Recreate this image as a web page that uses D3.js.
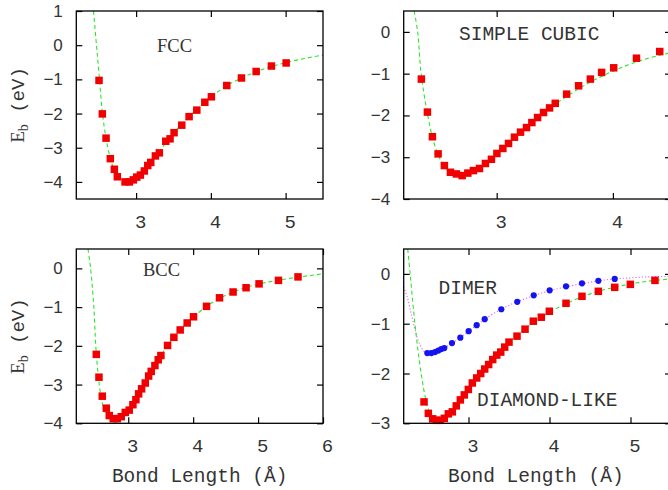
<!DOCTYPE html>
<html><head><meta charset="utf-8">
<script src="https://cdn.jsdelivr.net/npm/d3@7"></script>
<style>body{margin:0;background:#fff}svg{display:block}</style>
</head><body>
<svg id="c" width="668" height="490"></svg>
<script>
// ---------- DATA ----------
const fccX = [2.504,2.548,2.598,2.655,2.709,2.749,2.852,2.91,2.963,3.009,3.057,3.11,3.156,3.196,3.258,3.311,3.397,3.454,3.508,3.611,3.709,3.812,3.919,4.007,4.213,4.409,4.606,4.81,5.007];
const fccE = [-1.03,-2.01,-2.72,-3.32,-3.63,-3.85,-4.0,-4.0,-3.94,-3.86,-3.80,-3.68,-3.52,-3.43,-3.24,-3.15,-2.81,-2.74,-2.56,-2.34,-2.09,-1.90,-1.67,-1.51,-1.18,-0.96,-0.77,-0.61,-0.52];
const fccFitX = [2.43,2.47,2.51,2.55,2.6,2.66,2.72,2.78,2.86,2.95,3.05,3.2,3.4,3.6,3.8,4.0,4.2,4.4,4.6,4.8,5.0,5.25,5.5];
const fccFitE = [1.0,0,-1.0,-2.0,-2.75,-3.35,-3.72,-3.92,-4.0,-3.96,-3.8,-3.45,-2.85,-2.32,-1.9,-1.52,-1.2,-0.97,-0.78,-0.63,-0.51,-0.39,-0.29];

const scX = [2.352,2.404,2.447,2.496,2.55,2.602,2.653,2.703,2.752,2.8,2.852,2.903,2.955,3.002,3.053,3.102,3.153,3.205,3.257,3.303,3.352,3.403,3.455,3.504,3.602,3.705,3.806,3.903,4.007,4.203,4.403];
const scE = [-1.13,-1.92,-2.51,-2.92,-3.20,-3.36,-3.40,-3.44,-3.38,-3.32,-3.27,-3.15,-3.05,-2.91,-2.79,-2.67,-2.52,-2.40,-2.29,-2.17,-2.05,-1.93,-1.82,-1.71,-1.49,-1.29,-1.13,-0.97,-0.86,-0.63,-0.47];
const scFitX = [2.29,2.32,2.35,2.4,2.45,2.5,2.55,2.6,2.66,2.72,2.8,2.9,3.0,3.1,3.2,3.3,3.4,3.5,3.6,3.7,3.8,3.9,4.0,4.2,4.4,4.5];
const scFitE = [0.5,0,-1.0,-1.9,-2.55,-2.97,-3.22,-3.36,-3.43,-3.43,-3.35,-3.15,-2.92,-2.67,-2.42,-2.18,-1.95,-1.74,-1.55,-1.37,-1.21,-1.07,-0.94,-0.72,-0.56,-0.5];

const bccX = [2.508,2.549,2.6,2.662,2.708,2.769,2.831,2.892,2.954,3.015,3.072,3.118,3.16,3.206,3.262,3.314,3.354,3.411,3.462,3.503,3.606,3.703,3.8,3.908,4.006,4.206,4.406,4.615,4.815,5.015,5.314,5.615];
const bccE = [-2.22,-2.81,-3.30,-3.61,-3.80,-3.88,-3.88,-3.83,-3.72,-3.66,-3.52,-3.39,-3.24,-3.11,-2.96,-2.78,-2.66,-2.51,-2.36,-2.25,-1.99,-1.78,-1.59,-1.41,-1.25,-0.98,-0.76,-0.61,-0.50,-0.40,-0.31,-0.22];
const bccFitX = [2.38,2.42,2.47,2.5,2.54,2.58,2.63,2.68,2.75,2.82,2.9,3.0,3.1,3.2,3.3,3.4,3.5,3.6,3.7,3.8,3.9,4.0,4.2,4.4,4.6,4.8,5.0,5.3,5.6,6.0];
const bccFitE = [0.5,0,-1.0,-2.0,-2.8,-3.3,-3.65,-3.82,-3.9,-3.88,-3.8,-3.64,-3.42,-3.15,-2.85,-2.55,-2.26,-2.0,-1.78,-1.58,-1.41,-1.26,-0.99,-0.78,-0.62,-0.5,-0.41,-0.31,-0.23,-0.14];

const dimerX = [2.491,2.541,2.586,2.627,2.664,2.701,2.796,2.899,3.002,3.101,3.2,3.405,3.602,3.805,4.002,4.204,4.401,4.603,4.805];
const dimerE = [-1.59,-1.59,-1.57,-1.54,-1.51,-1.49,-1.39,-1.28,-1.15,-1.03,-0.91,-0.71,-0.56,-0.43,-0.33,-0.25,-0.19,-0.14,-0.10];
const dimerFitX = [2.2,2.25,2.3,2.35,2.4,2.45,2.5,2.55,2.6,2.7,2.8,2.9,3.0,3.1,3.2,3.4,3.6,3.8,4.0,4.2,4.4,4.6,4.8,5.0,5.2,5.5];
const dimerFitE = [-0.26,-0.5,-0.85,-1.18,-1.42,-1.55,-1.59,-1.59,-1.57,-1.49,-1.39,-1.28,-1.15,-1.03,-0.91,-0.71,-0.56,-0.44,-0.34,-0.26,-0.2,-0.14,-0.1,-0.08,-0.06,-0.05];

const diaX = [2.451,2.504,2.558,2.603,2.652,2.701,2.751,2.8,2.849,2.899,2.948,2.998,3.047,3.101,3.151,3.2,3.249,3.299,3.348,3.398,3.447,3.5,3.599,3.698,3.8,3.899,3.998,4.204,4.401,4.603,4.805,4.998,5.302];
const diaE = [-2.57,-2.80,-2.91,-2.94,-2.94,-2.90,-2.81,-2.77,-2.65,-2.53,-2.43,-2.32,-2.19,-2.09,-2.0,-1.91,-1.82,-1.72,-1.63,-1.57,-1.47,-1.37,-1.25,-1.11,-0.95,-0.87,-0.75,-0.59,-0.45,-0.35,-0.27,-0.21,-0.13];
const diaFitX = [2.25,2.28,2.32,2.37,2.42,2.47,2.52,2.58,2.65,2.72,2.8,2.9,3.0,3.1,3.2,3.3,3.4,3.5,3.6,3.7,3.8,3.9,4.0,4.2,4.4,4.6,4.8,5.0,5.2,5.5];
const diaFitE = [0.5,0,-0.7,-1.45,-2.05,-2.5,-2.78,-2.92,-2.96,-2.9,-2.78,-2.56,-2.33,-2.1,-1.89,-1.7,-1.53,-1.37,-1.23,-1.1,-0.98,-0.87,-0.77,-0.6,-0.46,-0.35,-0.27,-0.2,-0.15,-0.1];

const xTicks1 = [3,4,5], yTicks1 = [1,0,-1,-2,-3,-4];
const xTicks2 = [3,4],   yTicks2 = [0,-1,-2,-3,-4];
const xTicks3 = [3,4,5,6], yTicks3 = [0,-1,-2,-3,-4];
const xTicks4 = [3,4,5], yTicks4 = [0,-1,-2,-3];

const xLabel = "Bond Length (Å)";

// ---------- DRAW ----------
const svg = d3.select("#c");
const zip = (a,b) => a.map((v,i)=>[v,b[i]]);
const GREEN = "#2ae62a", MAG = "#f060f0", RED = "#f00000", BLUE = "#1414f0";
const TXT = "#333";
const MONO = "'Liberation Mono', 'Courier New', monospace";
const SANS = "'Liberation Sans', Arial, sans-serif";
const SERIF = "'Liberation Serif', 'Times New Roman', serif";

function panel(id, box, xd, yd, xt, yt, opts) {
  const x = d3.scaleLinear().domain(xd).range([box.l, box.r]);
  const y = d3.scaleLinear().domain(yd).range([box.b, box.t]);
  const g = svg.append("g");
  g.append("clipPath").attr("id","clip"+id).append("rect")
    .attr("x",box.l).attr("y",box.t).attr("width",box.r-box.l).attr("height",box.b-box.t);

  const tl = 6;
  const ax = [
    [d3.axisBottom(x).tickValues(xt).tickSize(tl), `translate(0,${box.b}) scale(1,-1)`],
    [d3.axisTop(x).tickValues(xt).tickSize(tl), `translate(0,${box.t}) scale(1,-1)`],
    [d3.axisLeft(y).tickValues(yt).tickSize(tl), `translate(${box.l},0) scale(-1,1)`],
    [d3.axisRight(y).tickValues(yt).tickSize(tl), `translate(${box.r},0) scale(-1,1)`]
  ];
  ax.forEach(([a,t]) => {
    const ag = g.append("g").attr("transform", t).call(a.tickFormat(""));
    ag.select(".domain").remove();
    ag.selectAll("line").attr("stroke","#000").attr("stroke-width",1.2);
  });
  g.append("g").selectAll("text").data(xt).join("text")
    .attr("x", d => x(d) + 4.5).attr("y", box.b + 29)
    .attr("text-anchor","middle").attr("font-family",MONO).attr("font-size",19)
    .attr("fill",TXT).text(d => d);
  g.append("g").selectAll("text").data(yt).join("text")
    .attr("x", box.l - 13.5).attr("y", d => y(d) + 6)
    .attr("text-anchor","end").attr("font-family",SANS).attr("font-size",17)
    .attr("fill",TXT).text(d => d < 0 ? "\u2212" + Math.abs(d) : d);

  const plot = g.append("g").attr("clip-path", `url(#clip${id})`);
  const line = d3.line().x(d=>x(d[0])).y(d=>y(d[1])).curve(d3.curveCatmullRom.alpha(0.5));
  (opts.series||[]).forEach(s => {
    if (s.kind === "sq") {
      g.append("g").selectAll("rect").data(zip(s.x,s.y)).join("rect")
        .attr("x", d => x(d[0]) - 3.75).attr("y", d => y(d[1]) - 3.75)
        .attr("width",7.5).attr("height",7.5).attr("fill",RED);
    } else if (s.kind === "dot") {
      g.append("g").selectAll("circle").data(zip(s.x,s.y)).join("circle")
        .attr("cx", d => x(d[0])).attr("cy", d => y(d[1])).attr("r",3.1).attr("fill",BLUE);
    }
  });
  (opts.series||[]).forEach(s => {
    if (s.kind === "fit") {
      plot.append("path").datum(zip(s.x,s.y)).attr("d",line)
        .attr("fill","none").attr("stroke",GREEN).attr("stroke-width",1.1)
        .attr("stroke-dasharray","4,3");
    } else if (s.kind === "fitdot") {
      plot.append("path").datum(zip(s.x,s.y)).attr("d",line)
        .attr("fill","none").attr("stroke",MAG).attr("stroke-width",1.1)
        .attr("stroke-dasharray","1.2,2");
    }
  });
  g.append("rect").attr("x",box.l).attr("y",box.t).attr("width",box.r-box.l).attr("height",box.b-box.t)
    .attr("fill","none").attr("stroke","#000").attr("stroke-width",1.3);
  (opts.labels||[]).forEach(L => {
    g.append("text").attr("x",L.x).attr("y",L.y).attr("font-family",L.font).attr("font-size",L.size)
      .attr("fill",TXT).text(L.t);
  });
  return {x,y,box};
}

const colL = {l:76.3, r:323}, colR = {l:403.7, r:671};
const rowT = {t:11, b:199}, rowB = {t:249, b:423.3};

panel(1, {...colL, ...rowT}, [2.2,5.5], [-4.5,1], xTicks1, yTicks1, {
  series:[{kind:"sq",x:fccX,y:fccE},{kind:"fit",x:fccFitX,y:fccFitE}],
  labels:[{t:"FCC",x:157,y:52,font:SERIF,size:18.5}]
});
panel(2, {...colR, ...rowT}, [2.2,4.5], [-4,0.5], xTicks2, yTicks2, {
  series:[{kind:"sq",x:scX,y:scE},{kind:"fit",x:scFitX,y:scFitE}],
  labels:[{t:"SIMPLE CUBIC",x:459,y:39.5,font:MONO,size:19.5}]
});
panel(3, {...colL, ...rowB}, [2.2,6.0], [-4,0.5], xTicks3, yTicks3, {
  series:[{kind:"sq",x:bccX,y:bccE},{kind:"fit",x:bccFitX,y:bccFitE}],
  labels:[{t:"BCC",x:143,y:276,font:SERIF,size:18.5}]
});
panel(4, {...colR, ...rowB}, [2.2,5.5], [-3,0.5], xTicks4, yTicks4, {
  series:[{kind:"dot",x:dimerX,y:dimerE},{kind:"sq",x:diaX,y:diaE},
          {kind:"fitdot",x:dimerFitX,y:dimerFitE},{kind:"fit",x:diaFitX,y:diaFitE}],
  labels:[{t:"DIMER",x:438.5,y:294,font:MONO,size:19.5},
          {t:"DIAMOND-LIKE",x:477,y:405.7,font:MONO,size:19.5}]
});

[(colL.l+colL.r)/2, (colR.l+colR.r)/2 - 1.5].forEach(cx => {
  svg.append("text").attr("x",cx).attr("y",481.5).attr("text-anchor","middle")
    .attr("font-family",MONO).attr("font-size",19.5).attr("fill",TXT).text(xLabel);
});
[(rowT.t+rowT.b)/2, (rowB.t+rowB.b)/2].forEach(cy => {
  const t = svg.append("text").attr("transform",`translate(23.5,${cy}) rotate(-90)`)
    .attr("text-anchor","middle").attr("fill",TXT);
  t.append("tspan").attr("font-family",SERIF).attr("font-size",19).text("E");
  t.append("tspan").attr("font-family",SERIF).attr("font-size",14).attr("dy",4).text("b");
  t.append("tspan").attr("font-family",MONO).attr("font-size",19).attr("dy",-4).text("\u00a0(eV)");
});
</script>
</body></html>
